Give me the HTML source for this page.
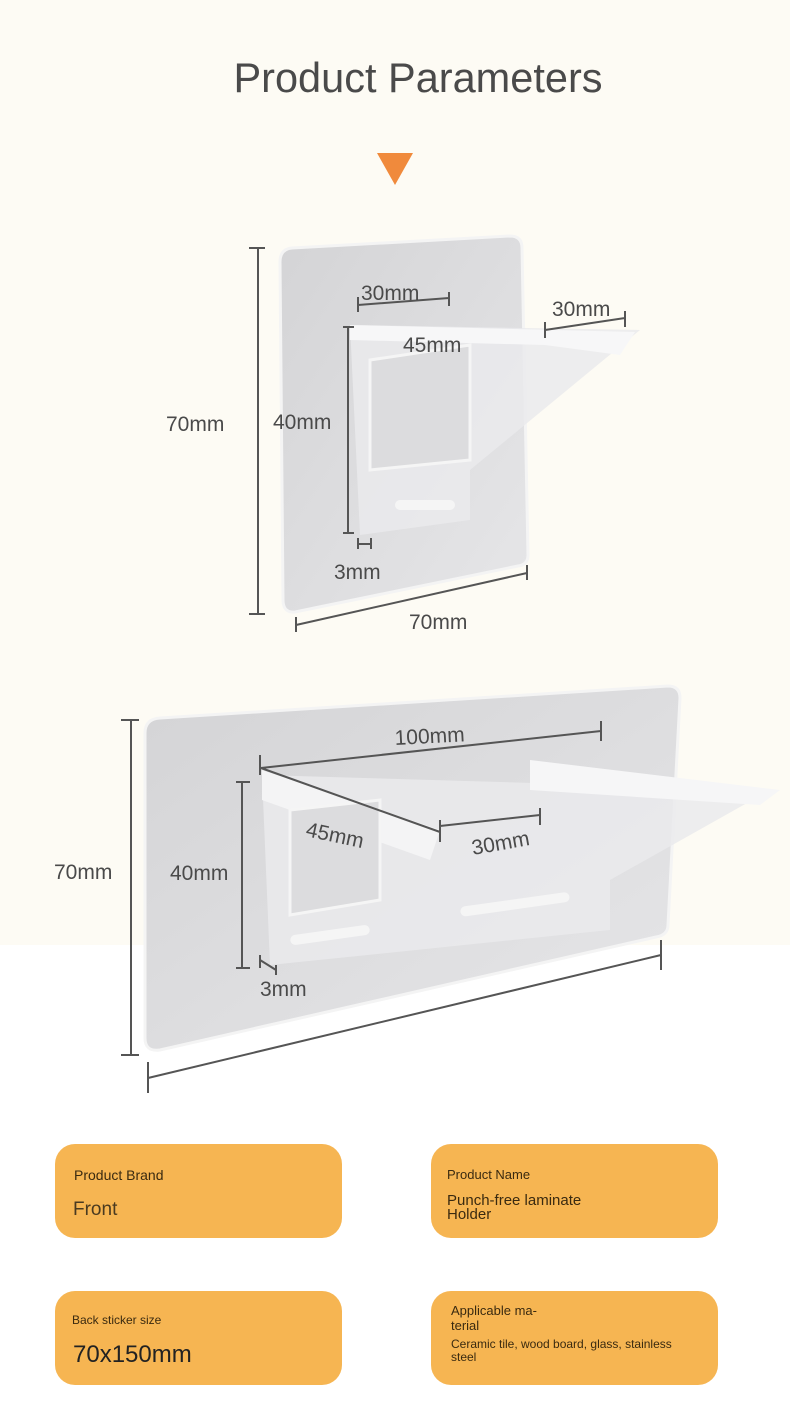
<!DOCTYPE html>
<html><head><meta charset="utf-8"><style>
html,body{margin:0;padding:0}
body{width:790px;height:1413px;position:relative;overflow:hidden;background:#fff;font-family:"Liberation Sans",sans-serif}
.top{position:absolute;left:0;top:0;width:790px;height:945px;background:#fdfbf4}
svg{position:absolute;left:0;top:0}
.card{position:absolute;width:287px;height:94px;background:#f6b552;border-radius:20px;color:#3a2a10}
.card div{position:absolute}
</style></head><body>
<div class="top"></div>
<svg width="790" height="1413" viewBox="0 0 790 1413" font-family="Liberation Sans, sans-serif">
<defs>
<linearGradient id="g1" x1="0" y1="0" x2="1" y2="1"><stop offset="0" stop-color="#d4d4d6"/><stop offset="1" stop-color="#e6e6e8"/></linearGradient>
</defs>
<text x="418" y="92" font-size="41.5" fill="#4a4a4a" text-anchor="middle">Product Parameters</text>
<polygon points="377,153 413,153 395,185" fill="#f08a3c"/>
<!-- panel 1 -->
<path d="M292,248 L510,236 Q522,236 522,248 L528,555 Q528,565 518,566 L295,612 Q283,613 283,600 L280,262 Q280,249 292,248Z" fill="url(#g1)" stroke="#f4f4f4" stroke-width="3"/>
<path d="M350,325 L640,330 L470,470 L470,520 L360,535Z" fill="#eaeaec" opacity=".85"/>
<path d="M350,325 L635,332 L620,355 L545,345 L350,340Z" fill="#f7f7f8"/>
<path d="M370,360 L470,345 L470,460 L370,470Z" fill="#dcdcde" stroke="#f5f5f5" stroke-width="3"/>
<rect x="395" y="500" width="60" height="10" rx="5" fill="#f5f5f5"/>
<g stroke="#555" stroke-width="2" fill="none">
<path d="M258,248 V614 M249,248 H265 M249,614 H265"/>
<path d="M296,625 L527,573 M296,617 V632 M527,565 V580"/>
<path d="M348,327 V533 M343,327 H354 M343,533 H354"/>
<path d="M358,305 L449,298 M358,297 V312 M449,292 V306"/>
<path d="M545,330 L625,318 M545,322 V338 M625,311 V327"/>
<path d="M358,544 L371,544 M358,538 V549 M371,538 V549"/>
</g>
<g font-size="21" fill="#4a4a4a">
<text x="166" y="431">70mm</text><text x="409" y="629">70mm</text>
<text x="273" y="429">40mm</text><text x="361" y="300">30mm</text>
<text x="403" y="352">45mm</text><text x="552" y="316">30mm</text>
<text x="334" y="579">3mm</text>
</g>
<!-- panel 2 -->
<path d="M160,718 L668,686 Q680,686 680,698 L668,925 Q668,935 656,937 L160,1050 Q145,1052 145,1038 L145,733 Q145,719 160,718Z" fill="url(#g1)" stroke="#f4f4f4" stroke-width="3"/>
<path d="M262,775 L770,790 L610,880 L610,930 L270,965Z" fill="#eaeaec" opacity=".85"/>
<path d="M530,760 L780,790 L760,805 L530,790Z" fill="#f6f6f7"/>
<path d="M262,770 L440,830 L430,860 L262,800Z" fill="#f4f4f5"/>
<path d="M290,810 L380,800 L380,900 L290,915Z" fill="#dcdcde" stroke="#f5f5f5" stroke-width="3"/>
<rect x="290" y="930" width="80" height="10" rx="5" fill="#f5f5f5" transform="rotate(-8 330 935)"/>
<rect x="460" y="900" width="110" height="10" rx="5" fill="#f5f5f5" transform="rotate(-8 510 905)"/>
<g stroke="#555" stroke-width="2" fill="none">
<path d="M131,720 V1055 M121,720 H139 M121,1055 H139"/>
<path d="M148,1078 L661,955 M148,1062 V1093 M661,940 V970"/>
<path d="M242,782 V968 M236,782 H250 M236,968 H250"/>
<path d="M261,768 L601,731 M260,755 V775 M601,721 V741"/>
<path d="M261,768 L440,832 M440,826 L540,815 M440,820 V842 M540,808 V825"/>
<path d="M260,960 L276,970 M260,955 V968 M276,965 V975"/>
</g>
<g font-size="21" fill="#4a4a4a">
<text x="54" y="879">70mm</text><text x="170" y="880">40mm</text>
<text x="395" y="745" transform="rotate(-3 395 745)">100mm</text>
<text x="305" y="836" transform="rotate(12 305 836)">45mm</text>
<text x="473" y="855" transform="rotate(-10 473 855)">30mm</text>
<text x="260" y="996">3mm</text>
</g>
</svg>
<div class="card" style="left:55px;top:1144px"><div style="left:19px;top:23px;font-size:14px">Product Brand</div><div style="left:18px;top:55px;font-size:19px;color:#4a3a20">Front</div></div>
<div class="card" style="left:431px;top:1144px"><div style="left:16px;top:23px;font-size:13px">Product Name</div><div style="left:16px;top:50px;font-size:15px;line-height:14px;width:180px">Punch-free laminate Holder</div></div>
<div class="card" style="left:55px;top:1291px"><div style="left:17px;top:22px;font-size:12px">Back sticker size</div><div style="left:18px;top:50px;font-size:24px;color:#222">70x150mm</div></div>
<div class="card" style="left:431px;top:1291px"><div style="left:20px;top:12px;font-size:13px;line-height:15px;width:110px">Applicable ma-<br>terial</div><div style="left:20px;top:47px;font-size:12px;line-height:13px;width:228px">Ceramic tile, wood board, glass, stainless steel</div></div>
</body></html>
